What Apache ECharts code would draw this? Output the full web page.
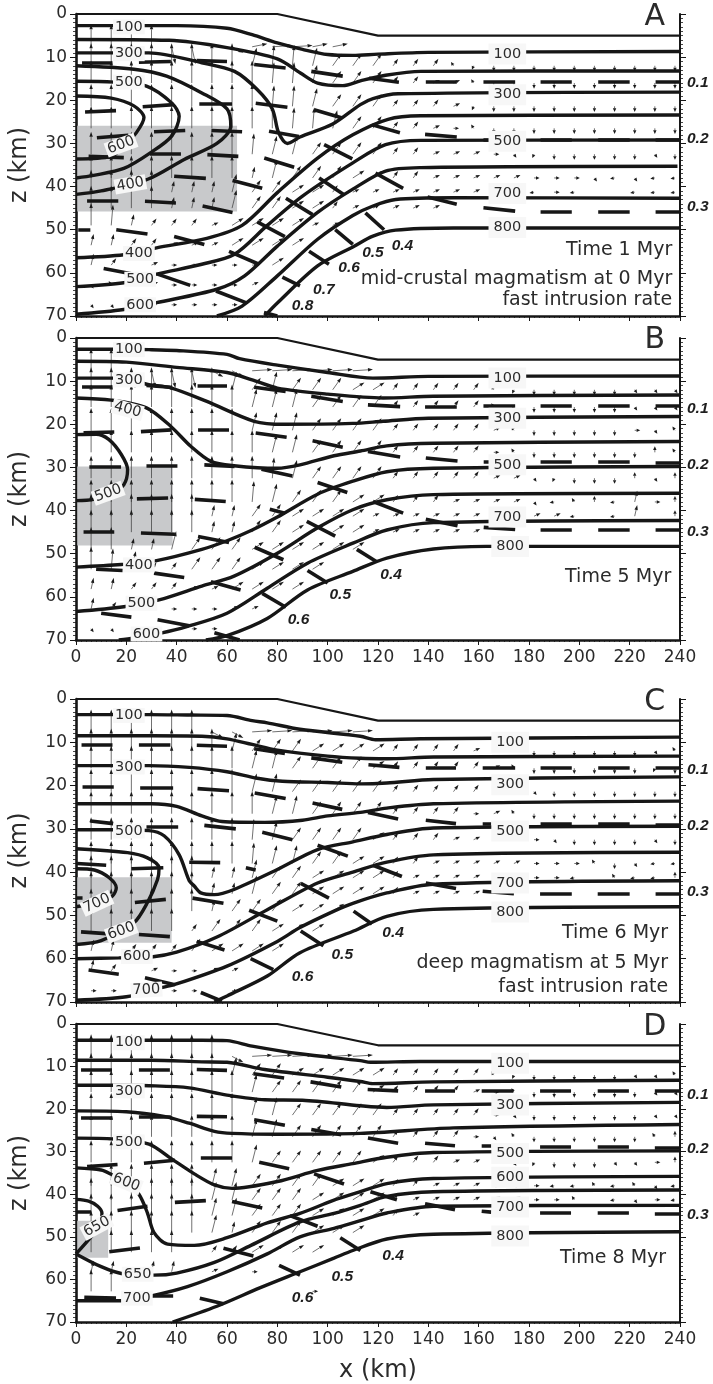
<!DOCTYPE html>
<html><head><meta charset="utf-8">
<style>html,body{margin:0;padding:0;background:#fff}#c{width:713px;height:1384px}</style>
<script src="https://cdn.jsdelivr.net/npm/echarts@6/dist/echarts.min.js"></script>
</head><body><div id="c"></div>
<script>
// ---------- shared values ----------
const xTicksMax = 240, zMax = 70;
const surface = [[0,0],[80,0],[120,5],[240,5]];
const arrowCols = [6,14,22,30,38,46,54,62,70,78,86,94,102,110,118,126,134,142,150,158,166,174,182,190,198,206,214,222,230,238];
const arrowRowsZ = [7.6,12,16,21.4,26.5,32.5,38,41.3,45,49,53.6,58.2,62.8,67.4];
const arrowCodes = {A:[0,-5.2],B:[0.7,-4.8],C:[1.8,-4.2],D:[3.4,-2.8],E:[4.6,-1.7],F:[6,-0.7],G:[8,-0.3],H:[1.5,4],I:[4.5,1.4],
  a:[0,-1.4],b:[1,-2.6],d:[2,-1.6],e:[2.6,-0.7],r:[2.2,0],x:[1,0.8],v:[0,1.3],w:[-0.7,0.9],l:[-1.8,0.2],q:[-1,-0.9],s:[2,0.3]};

// ---------- Panel A ----------
const isoA = [
 [[0,2.7],[15,2.7],[40,2.7],[60,3.3],[70,4.8],[80,6.7],[90,8.2],[100,9.4],[110,9.6],[120,9.3],[140,8.9],[240,8.7]],
 [[0,5.9],[37,6.1],[60,7.8],[80,10.4],[89,13.6],[96,16],[106,16.6],[113,15.5],[123,14.2],[137,13.3],[240,13.2]],
 [[0,9],[15,9],[29,9],[50,11.3],[63,13.3],[72,17.5],[78,22],[80.5,27.5],[84,30],[89,28.5],[102,25.5],[113,21],[118,19.6],[128,18.5],[240,18.1]],
 [[0,12],[23,12.8],[36,14.4],[50,18.3],[60,22],[61.5,26],[56,30],[43,33.7],[28.5,38.3],[10,41],[0,41.8]],
 [[0,15.6],[15,15.8],[28,16.7],[38,20.6],[41,23.7],[38,28.3],[30,32],[19,35.8],[7,37.4],[0,38]],
 [[0,19],[14,19.5],[23,21.3],[27,24],[24,27.5],[19,30.6],[14,33],[0,33.6]],
 [[0,56.5],[19,55.8],[32,54.2],[52,52],[66,49],[80,41.4],[96,33.4],[110,28],[124,24.4],[137,23.6],[240,23.4]],
 [[0,63.2],[19,62.3],[32,60.3],[50,58],[63,55.7],[76,49],[90,42.2],[110,34.5],[123,30.3],[137,29.3],[240,29.2]],
 [[0,69.6],[19,68.5],[32,66.9],[56,63.8],[67,60.7],[80,53.8],[96,46],[110,40.6],[123,36.4],[137,35.6],[239,35.3]],
 [[56,70],[66,67.7],[80,60.7],[96,52.2],[110,46.7],[118,44.5],[127,43],[150,42.6],[240,42.7]],
 [[75,70],[80,67],[96,58.4],[110,54],[118,51.5],[127,50.1],[150,49.6],[240,49.6]]
];
const meltA = [
 [2.4,11.2,14.5,11.2],[25,11.2,37.7,11],[48,10.8,60,11],[70.8,11.7,83.3,12.5],[93.5,13.3,106,14.4],[116.4,14.9,128.3,15.8],[139,15.7,151.3,15.7],[161.9,15.7,174.5,15.7],[184.6,15.7,197,15.7],[207.5,15.7,220,15.7],[230.3,15.7,240,15.7],
 [3.6,22.7,15.9,22.4],[26.5,21.5,39,21],[49,20.7,62,20.7],[71.4,20.7,84,21.6],[94.6,22.2,105.8,24.1],[117.7,25.7,128.7,27.5],[138.7,27.9,151.3,28.5],[161.9,29.1,174.5,29.1],[184.6,29.1,197,29.1],[207.5,29.1,220,29.1],[230.3,29.1,240,29.1],
 [8.3,28.7,20.8,28.1],[31,27.3,43.4,27],[53.8,27,66,27.3],[76.7,27.2,88.6,28.4],[98.6,30.3,109.8,33.6],[119,36.9,130,40.4],[139.7,42.4,151.3,44.1],[161.9,44.9,174.5,45.7],[184.6,45.8,197,45.8],[207.5,45.8,220,45.8],[230.3,45.8,240,45.8],
 [5,33,19,33.3],[29.4,32.3,41.7,32.3],[52.2,32.6,64.5,33],[74.8,33.4,86.7,35.5],[96.6,38,106.5,41.9],[115,46.1,122.4,50],
 [39,37.6,51.6,38.1],[62.2,38.6,74,40.4],[83.4,42.7,94,46.5],[103,50,110,53.4],
 [4.4,43.4,16.8,43.4],[27.4,43.4,39.7,43.8],[50.3,44.5,62.2,46],[72,48.2,83,51.6],[92.6,55,100.5,58],
 [0.9,50,5.7,50],[16,50,28.4,51],[39,51.6,51,53.4],[60.8,55,72.7,58],[82,61,89,63],
 [11,59,23,60.3],[32.4,60.3,45.4,62.9],[55.6,64.2,67.5,66.9],[74.7,69.2,80,70]
];
const rectA = [0.5,25.9,64,45.8];
const labelsA = [[21,3,'100',0],[21,9.2,'300',0],[21,15.8,'500',0],[17.9,30.4,'600',20],[21.6,39.5,'400',10],[25,55.5,'400',0],[25.5,61.5,'500',0],[25.5,67.4,'600',0],[171.4,9.3,'100',0],[171.4,18.7,'300',0],[171.4,29.5,'500',0],[171.4,41.6,'700',0],[171.4,49.5,'800',0]];
const contourA = [[129.7,53.6,'0.4'],[118,55.3,'0.5'],[108.5,58.8,'0.6'],[98.5,63.8,'0.7'],[90,67.7,'0.8']];
const edgeA = [[16,'0.1'],[29,'0.2'],[44.7,'0.3']];
const notesA = [[236.9,54.8,'Time 1 Myr'],[236.9,61.4,'mid-crustal magmatism at 0 Myr'],[236.9,66.4,'fast intrusion rate']];
const arrowsA = [
 "AAAAHH.IFGGFF.................",
 "AAAAAAAACBBCDDDdddqwvvvvvvvvvv",
 "AAAAAAAAABBCDDDddeeqvvvvvvvvvv",
 "AAAAAAAAABBCDDDdddewvvvvvvvvvv",
 "AAAAAAAAAABBCDDdderqvvvvvvvvvv",
 "AAAAAAAABCCDDDDddeeerxwvvvvvxv",
 "AAAAAAAAbCDDDEEddeeeeerrrxlxll",
 "AAAAbbbCDDEEdeeeeeeerrlrl..lll",
 "AAAAbbbCDDEEdeeeee............",
 "ABbdddeEEEEee.................",
 "bbddeeeEEEE...................",
 "bd.errrrrE....................",
 "xq.errrre.....................",
 "xxrrrrrr......................"
];

// ---------- Panel B ----------
const isoB = [
 [[0,2.6],[15,2.6],[29,2.7],[40,2.9],[60,3.8],[65,4.8],[80,6.3],[100,8],[118,9.3],[140,8.9],[240,8.8]],
 [[0,5.4],[20,5.6],[40,6.8],[60,8],[70,9.7],[80,11.6],[100,13],[122,13.9],[142,13.5],[240,13.2]],
 [[0,9.3],[15,9.3],[29,10.8],[38,11.6],[52,14.7],[70.8,19.3],[82.7,20],[110,19.8],[122,19.3],[140,18.6],[240,18.2]],
 [[0,13.9],[14,14.4],[28,16.2],[37.7,20.5],[45.6,25.1],[53.6,28.6],[62.8,29.6],[80,30.2],[89,29.4],[102.5,27.3],[113,26.2],[123.5,25],[142,24.4],[240,24]],
 [[0,22.4],[8,22.3],[13,23.5],[18,27],[20.5,30.5],[19,34],[14,36],[7,37.4],[0,37.7]],
 [[0,53.1],[18,52.5],[32,51.6],[50,49],[60,47],[70,44.5],[80,41.5],[96,36.2],[110,33.2],[123.5,31],[142,30.2],[240,29.8]],
 [[0,63.4],[19,62.3],[33,60.7],[50,57.5],[62.8,55.2],[80,49.9],[96,44],[110,39.8],[123.5,37.5],[142,36.3],[240,36]],
 [[17,70],[23,69.5],[33.7,68.4],[44,66.9],[60,63.8],[76,58],[92,52.2],[110.3,47.5],[123.5,44.5],[142,42.8],[240,42.3]],
 [[51.6,70],[60,69],[76,65],[92,58.4],[110,54.1],[123.5,51],[142,48.9],[163,48.3],[240,48.3]]
];
const meltB = [
 [2.4,11.4,14.5,11.4],[28,11,37.7,11.4],[48.3,11,60,11],[70.8,11.4,83.3,12.4],[93.5,13.5,106,14.7],[116,15.5,128.8,15.9],[138.7,15.9,151.3,15.9],[161.9,15.7,174.5,15.7],[184.6,15.7,197,15.7],[207.5,15.7,220,15.7],[230.3,15.8,240,15.8],
 [3,22,15.2,21.8],[25.8,21.7,38,21.3],[48.5,21.3,60.8,21.3],[71.4,22,83.7,23],[94,23.8,106,25.3],[116,26.3,128.8,27.6],[139,27.8,151.6,28.5],[162,28.6,165,28.6],[184.6,28.7,197,28.7],[207.5,28.7,220,28.7],[230.3,28.9,240,28.9],
 [5.3,29.8,17.9,29.8],[28,29.6,40.3,29.5],[51,29.4,63,29.8],[73.7,30.4,86,32],[96,33.5,107.8,35.8],[118,37.9,130,40.6],[139,42,151.6,43.5],[162,43.9,174.5,44.4],[184.6,44.4,197,44.4],[207.5,44.4,220,44.4],[230.3,44.5,240,44.5],
 [24.2,37.3,36.6,37.1],[47.2,37.4,59.5,37.9],[77,39.7,83,40.6],[91.7,42.5,103,45.9],[111.6,49,119.3,51.8],
 [3,45,15.2,45],[25.8,45.2,39.3,45.5],[48.5,46,60.8,47.4],[71,48.5,82.4,51.4],[92,53.9,100,56.8],
 [8,53.6,18.5,53.9],[31,54.5,43,55.5],[53.6,56.5,65.4,58.4],[74,59.2,83.4,62.4],
 [10,63.8,22,64.7],[32.4,65.3,45,66.7],[55,68.3,65,70]
];
const rectB = [0.5,29.8,38.4,48.1];
const labelsB = [[21,2.7,'100',0],[21,9.7,'300',0],[20.5,16.6,'400',-15],[12.8,36,'500',20],[25,52.6,'400',0],[26,61.5,'500',0],[28,68.6,'600',0],[171.4,9.3,'100',0],[171.4,18.6,'300',0],[171.4,29.4,'500',0],[171.4,41.5,'700',0],[172.5,48.3,'800',0]];
const contourB = [[125.2,54.8,'0.4'],[105,59.5,'0.5'],[88.4,65.2,'0.6']];
const edgeB = [[16.5,'0.1'],[29.4,'0.2'],[44.9,'0.3']];
const notesB = [[236.5,55.5,'Time 5 Myr']];
const arrowsB = [
 "AAHHHHIIGGGGGG................",
 "AAAAAAACDCDDDEEdddddqwvvvvvxxx",
 "AAAAAAAACCCDDDDdddddqwvvvvvxxx",
 "AAAAAAAACCCDDDDdddddeqvvvvvrxq",
 "AAAAAAAAACCDDDDdddddrqvvvvvvaq",
 "AAAAAAAAABCDDDDdddddeexwvvvaxa",
 "AAAAAAAABCDDDEEdddeeeexlqalbra",
 "AAAAAAbbDDEEEEeeeeeeeeeel.lb.a",
 "AAAAAAbbDDEEEEeeeeee..........",
 "AAbbCDDDEEEEEE................",
 "ABCddDDDEEEE..................",
 "bbdddeeEEEE...................",
 "bdd.rrree.....................",
 "xxr..rr......................."
];

// ---------- Panel C ----------
const isoC = [
 [[0,3.6],[15,3.6],[29,3.6],[45,3.7],[60,3.8],[70,5],[76,5.5],[89,7],[113,8.6],[119,9.4],[137,9.2],[240,8.8]],
 [[0,8.5],[30,8.5],[50,8.6],[60,9.2],[70,10.5],[80,11.8],[100,13.2],[113,13.7],[123.5,13.8],[142,13.4],[240,13.2]],
 [[0,15.4],[15,15.4],[29,15.4],[45,15.8],[60,16.8],[72,18.3],[82,19],[100,19.3],[113,19.6],[123.5,19.4],[142,18.6],[240,18]],
 [[0,24.2],[30,24.2],[40,24.8],[50,27],[58,28.3],[75,28.5],[90,28],[100,27],[113,26.2],[123.5,25.2],[142,24.2],[240,23.6]],
 [[0,30.2],[15,30.2],[29,30.4],[35,31.6],[41,36],[45,42],[47,43.2],[49.6,44.8],[55,45.2],[62.8,44],[80,39.4],[96,34.8],[110,33],[123.5,31.3],[142,29.8],[240,29.4]],
 [[0,34.6],[20.5,35.5],[28.4,36.7],[33,39],[32.4,41.7],[28.4,47],[23,51.7],[10,55.8],[0,56.7]],
 [[0,39.2],[7.3,39.5],[13.2,41.3],[16,43.6],[14.5,45.5],[9,47],[0,48]],
 [[0,60],[17,59.8],[30,59.6],[40,58.5],[56,55],[76,48.7],[96,42.5],[110,40],[123.5,37.7],[142,36],[240,35.4]],
 [[0,69.6],[20,68.8],[33,66.8],[39,66],[60,61.7],[80,56],[89,52.8],[102.5,49],[110,47.2],[123.5,44.8],[142,42.8],[240,42]],
 [[55,70],[60,68.6],[76,64],[89,58.6],[110.3,53.6],[123.5,50.2],[142,48.6],[240,48]]
];
const meltC = [
 [2.2,10.5,14.5,10.5],[25,10.5,37.5,10.5],[48,10.7,60,10.9],[70.8,11.5,83,12.6],[93.5,13.6,105.8,14.6],[116.2,15.2,128.5,15.8],[139,15.8,151,15.8],[161.6,15.8,174.5,15.8],[184.6,15.8,197,15.8],[207.5,15.8,220,15.8],[230.3,15.8,240,15.8],
 [2.6,20.3,15,20.3],[25.5,20.6,38.6,20.6],[48.3,20.7,60.8,21.2],[71,21.7,83.3,23],[94,24,105.8,25.5],[116,26.2,128,27.7],[139,28,151,28.8],[161.6,28.8,165,28.8],[184.6,28.8,197,28.8],[207.5,28.8,220,28.8],[230.3,29,240,29],
 [5.7,28.2,14.8,28.8],[28,29.4,40.6,29.4],[51,29.2,63.5,30],[74,30.8,86,32.5],[96,33.8,108,36.3],[118,38.4,129.5,41],[139,42.5,151,43.8],[161.6,44.4,174,45],[184.4,45,197,45],[207.3,45,220,45],[230.3,45,240,45],
 [0.4,38,12,38.4],[22,39.2,34.7,39],[45,37.7,57.3,37.8],[67.5,39,71.4,39.5],[89.3,42.6,100.5,46],[110.3,49,117.6,52],
 [0,46,2.6,46],[23.4,47,35.7,46.3],[46.3,46,58.6,47.2],[68.8,48.8,80,51.3],[89.3,53.6,98.3,57],
 [2,53.8,12,54.2],[25,54.4,37.3,54.9],[48,56,59,58],[69.4,60,78.4,62.5],
 [5,62.6,17,63.6],[27.4,64.4,39.3,66],[49.6,67.8,58,69.8]
];
const rectC = [0.5,41.2,38,56.3];
const labelsC = [[21,3.8,'100',0],[21,15.7,'300',0],[21,30.5,'500',0],[8.3,47.2,'700',25],[18,53.6,'600',20],[24.2,59.5,'600',0],[28,67.2,'700',3],[172.5,10,'100',0],[172.5,19.8,'300',0],[172.5,30.5,'500',0],[172.5,42.5,'700',0],[172.5,49.2,'800',0]];
const contourC = [[126,54,'0.4'],[105.8,59,'0.5'],[90,64.2,'0.6']];
const edgeC = [[16.3,'0.1'],[29.2,'0.2'],[44.5,'0.3']];
const notesC = [[235.3,54,'Time 6 Myr'],[235.3,61,'deep magmatism at 5 Myr'],[235.3,66.5,'fast intrusion rate']];
const arrowsC = [
 "AAAAAAIIGGGGGG................",
 "AAAAAAACDDDEEEEddddeeqvvvvvvxq",
 "AAAAAAAACCDDDDEdddddeqvvvvvvwv",
 "AAAAAAAACCDDDDDdddddrexvvvvvvv",
 "AAAAAAAAACCDDDDddddreqvvvvvvvv",
 "AAAAAAAABCDDDDEdddeeeerxvvvvxv",
 "AAAAAAAABCCDDEEddeeeeerrrqvxll",
 "AAAAAAbbCDDEEEEdeeeeeerrl.qlla",
 "AAAAAAbbCDDEEEEdeeee..........",
 "AAAAAAbDDDEEE.................",
 "AAAAAdDDDEEE..................",
 "bbdddDEEEE....................",
 "bd.erree......................",
 "rr.rrr.r......................"
];

// ---------- Panel D ----------
const isoD = [
 [[0,3.8],[15,3.8],[29,3.8],[50,3.8],[60,3.9],[70,5.2],[89,7],[113,8.6],[117,9],[136.8,8.8],[240,8.8]],
 [[0,8.5],[30,8.5],[50,8.9],[60,9],[75,10.7],[100,12.5],[113,13.5],[118,14],[142,13.6],[240,13.2]],
 [[0,14.4],[15,14.4],[29,14.5],[45,15],[60,16.7],[75,17.8],[90,17.9],[113,19.2],[123.5,19.6],[142,19],[240,18.4]],
 [[0,20.4],[20,20.6],[35,21.7],[45,23.3],[55,25.2],[62,25.7],[80,25.9],[113,25.7],[150,24.4],[240,23.6]],
 [[0,26.8],[15,27],[29,28.2],[38,31.7],[47,35.2],[55,37.8],[62,38.6],[80,37],[96,34.4],[110,32.8],[123.5,31.3],[142,30.2],[240,29.8]],
 [[0,33.8],[10,34.3],[14,35.3],[20,37.2],[25,40],[28.4,44.4],[31,49],[36.4,51.7],[47,52],[60,50.2],[76,46.7],[89,44.5],[102,41.5],[113,39.4],[123.5,37.5],[142,36.3],[240,35.8]],
 [[0,41.2],[5,41.6],[8.6,42.8],[10.3,44.4],[10,47],[6,50],[0,54]],
 [[0,54],[10,57],[18,58.6],[31,59],[40,58.5],[55,56],[69.5,52],[89,46.5],[102.5,44.5],[113,42.6],[123.5,40.5],[142,39.4],[240,39]],
 [[0,65],[18,65],[30.4,63.8],[44.3,61.7],[60,58.2],[76,54],[89,50],[102.5,48],[113,46.2],[123.5,44.4],[142,42.8],[240,42.6]],
 [[38.4,70],[56,66.3],[73,62],[89,58.2],[102.5,55],[110,53.2],[123.5,50.5],[142,49.4],[240,48.8]]
];
const meltD = [
 [2,10.7,14.3,10.7],[25,10.7,37.3,10.7],[48,10.7,60,10.9],[70.5,11.7,82.7,12.7],[93.2,13.6,105.4,14.8],[115.9,15.4,128,15.7],[138.7,15.7,150.6,15.7],[161.2,15.7,173.8,15.7],[184.4,15.7,196.7,15.7],[207.3,15.7,219.7,15.7],[230,15.7,240,15.7],
 [2,22,14.5,22],[25,21.7,37.7,21.7],[48,21.7,60,21.8],[70.8,22.5,83,23.8],[93.5,24.8,105.4,26],[116,26.8,128,28],[138.7,28,150.6,28.6],[161.2,28.6,165,28.6],[184.4,28.8,196.7,28.8],[207.3,28.8,219.7,28.8],[230,29,240,29],
 [4.4,33.5,16.5,33],[27,32.7,39.3,32],[49.6,31.5,62,31.5],[72.8,32.5,84.7,34],[94.6,35.2,106.5,37.6],[117,39.4,127.5,41.3],[138.7,42.2,150.6,43.6],[161.2,44,165,44.2],[184.4,44.4,196.7,44.4],[207.3,44.4,219.7,44.4],[230,44.5,240,44.5],
 [0.4,44.2,6,44.2],[16.5,43.8,28.4,42.8],[39.3,41.9,51.6,41.5],[62,41.7,74,43.2],[85,45,96,47.5],[105,50.2,113,53.2],
 [13.2,53.5,25.4,52.6],[58.6,52.7,70.5,54.5],[80.7,56.7,89,59],
 [3.3,64.2,15.9,64.4],[30,63.8,38.6,63.8],[49.2,64.4,58.6,65.7]
];
const rectD = [0.5,46.2,12.8,54.9];
const labelsD = [[21,4.4,'100',0],[21,15.7,'300',0],[21,27.7,'500',0],[20,37.2,'600',-22],[8.3,47.6,'650',28],[24.5,58.8,'650',0],[24.2,64.4,'700',0],[172.5,9.2,'100',0],[172.5,19,'300',0],[172.5,30.4,'500',0],[172.5,36,'600',0],[172.5,43,'700',0],[172.5,49.8,'800',0]];
const contourD = [[126,54.4,'0.4'],[105.8,59.4,'0.5'],[90,64.4,'0.6']];
const edgeD = [[16.5,'0.1'],[29.4,'0.2'],[44.8,'0.3']];
const notesD = [[234.5,55,'Time 8 Myr']];
const arrowsD = [
 "AAAAAAAIGGGGGG................",
 "AAAAAAACDDEEEEEdddddqwvvvvvxxq",
 "AAAAAAAACDDDDDEdddderqvvvvvvxx",
 "AAAAAAAACCDDDDDdddddrxvvvvvvxx",
 "AAAAAAAACCDDDDDddddrxqvvvvvvqa",
 "AAAAAAAACDDDDDEdddeerxwvvvxxra",
 "AAAAAACCDDDDEEEddeeerrrllqlqxl",
 "AAAAAACCDDDEEEEdeeeeeerrq.lxrl",
 "AAAAAACCDDDEEEEde.............",
 "AAAAAACbDDDEEE................",
 "AAAAA.ddEEEE..................",
 "bb.bb.e.r.....................",
 "AA.........r..................",
 ".............................."
];

const panels = [
 {name:'A',iso:isoA,melt:meltA,rect:rectA,labels:labelsA,contour:contourA,edge:edgeA,notes:notesA,arrows:arrowsA,top:14,bottom:316,xl:false,letterZ:0.8},
 {name:'B',iso:isoB,melt:meltB,rect:rectB,labels:labelsB,contour:contourB,edge:edgeB,notes:notesB,arrows:arrowsB,top:338,bottom:640,xl:true,letterZ:0.6},
 {name:'C',iso:isoC,melt:meltC,rect:rectC,labels:labelsC,contour:contourC,edge:edgeC,notes:notesC,arrows:arrowsC,top:699,bottom:1002,xl:false,letterZ:0.8},
 {name:'D',iso:isoD,melt:meltD,rect:rectD,labels:labelsD,contour:contourD,edge:edgeD,notes:notesD,arrows:arrowsD,top:1024,bottom:1328,xl:true,letterZ:0.8}
];

const INK='#161616', TXT='#2b2b2b', F='"DejaVu Sans"', FB='"Liberation Sans"';
const grid=[],xAxis=[],yAxis=[],series=[];

function arrowRender(params,api){
  const a=api.coord([api.value(0),api.value(1)]);
  const b=api.coord([api.value(0)+api.value(2),api.value(1)+api.value(3)]);
  const dx=b[0]-a[0],dy=b[1]-a[1],L=Math.hypot(dx,dy)||1,ux=dx/L,uy=dy/L;
  const hl=Math.min(5,Math.max(3.6,L*0.6)),hw=1.7;
  const bx=b[0]-ux*hl,by=b[1]-uy*hl;
  return {type:'group',children:[
    {type:'line',shape:{x1:a[0],y1:a[1],x2:bx,y2:by},style:{stroke:'#333',lineWidth:0.7}},
    {type:'polygon',shape:{points:[[b[0],b[1]],[bx-uy*hw,by+ux*hw],[bx+uy*hw,by-ux*hw]]},style:{fill:'#1c1c1c'}}
  ]};
}
function rectRender(params,api){
  const a=api.coord([api.value(0),api.value(1)]),b=api.coord([api.value(2),api.value(3)]);
  return {type:'rect',shape:{x:a[0],y:a[1],width:b[0]-a[0],height:b[1]-a[1]},style:{fill:'#c8c9cb'}};
}
const opaque={itemStyle:{opacity:1}};

panels.forEach((p,i)=>{
  grid.push({left:75,width:605,top:p.top,height:p.bottom-p.top});
  const last=i===3;
  xAxis.push({gridIndex:i,type:'value',min:0,max:xTicksMax,interval:20,position:'bottom',
    axisLine:{onZero:false,lineStyle:{color:INK,width:2.6}},
    axisTick:{show:true,length:5,lineStyle:{color:INK,width:1}},
    minorTick:{show:true,splitNumber:10,length:2,lineStyle:{color:INK,width:0.8}},
    axisLabel:{show:p.xl,fontFamily:F,fontSize:17,color:TXT,margin:9},splitLine:{show:false},
    name:last?'x (km)':'',nameLocation:'middle',nameGap:37,nameTextStyle:{fontFamily:F,fontSize:24,color:TXT}});
  yAxis.push({gridIndex:i,type:'value',min:0,max:zMax,interval:10,inverse:true,position:'left',
    axisLine:{show:true,onZero:false,lineStyle:{color:INK,width:2.6}},
    axisTick:{show:true,length:6,lineStyle:{color:INK,width:1}},
    minorTick:{show:true,splitNumber:10,length:3,lineStyle:{color:INK,width:0.8}},
    axisLabel:{fontFamily:F,fontSize:17,color:TXT,margin:9,padding:[7,0,0,0]},splitLine:{show:false},
    name:'z (km)',nameLocation:'middle',nameGap:44,nameTextStyle:{fontFamily:F,fontSize:24,color:TXT}});
  yAxis.push({gridIndex:i,type:'value',min:0,max:zMax,interval:10,inverse:true,position:'right',
    axisLine:{show:true,onZero:false,lineStyle:{color:INK,width:2}},
    axisTick:{show:true,length:6,lineStyle:{color:INK,width:1}},
    minorTick:{show:true,splitNumber:10,length:3,lineStyle:{color:INK,width:0.8}},
    axisLabel:{show:false},splitLine:{show:false}});
  const xi=i,yi=i*2,base={xAxisIndex:xi,yAxisIndex:yi,animation:false,silent:true};

  series.push({...base,type:'custom',z:1,clip:true,renderItem:rectRender,data:[p.rect],encode:{x:[0,2],y:[1,3]}});

  const arrowData=[];
  p.arrows.forEach((row,r)=>{[...row].forEach((c,k)=>{const v=arrowCodes[c];if(v)arrowData.push([arrowCols[k],arrowRowsZ[r],v[0],v[1]]);});});
  series.push({...base,type:'custom',z:2,clip:true,renderItem:arrowRender,data:arrowData,encode:{x:0,y:1}});

  series.push({...base,type:'line',z:3,clip:false,data:surface,showSymbol:false,symbol:'none',lineStyle:{color:INK,width:2.2}});
  p.iso.forEach(c=>series.push({...base,type:'line',z:3,clip:true,data:c,symbol:'none',smooth:0.3,lineStyle:{color:INK,width:3.4,cap:'butt'}}));
  series.push({...base,type:'lines',coordinateSystem:'cartesian2d',z:4,clip:true,
    data:p.melt.map(s=>({coords:[[s[0],s[1]],[s[2],s[3]]]})),lineStyle:{color:INK,width:3.6,opacity:1,curveness:0},symbol:'none'});

  series.push({...base,...opaque,type:'scatter',z:6,symbolSize:0,clip:false,
    data:p.labels.map(l=>({value:[l[0],l[1]],name:l[2],label:{rotate:l[3],padding:l[0]>100?[3,5]:[0,2]}})),
    label:{show:true,opacity:1,position:'inside',formatter:'{b}',fontFamily:F,fontSize:14.5,color:TXT,backgroundColor:'#f7f7f7'}});
  series.push({...base,...opaque,type:'scatter',z:6,symbolSize:0,clip:false,
    data:p.contour.map(l=>({value:[l[0],l[1]],name:l[2]})),
    label:{show:true,opacity:1,position:'inside',formatter:'{b}',fontFamily:FB,fontWeight:'bold',fontStyle:'italic',fontSize:15.5,color:'#1e1e1e'}});
  series.push({...base,...opaque,type:'scatter',z:6,symbolSize:0,clip:false,
    data:p.edge.map(l=>({value:[xTicksMax,l[0]],name:l[1]})),
    label:{show:true,opacity:1,position:'right',distance:7,formatter:'{b}',fontFamily:FB,fontWeight:'bold',fontStyle:'italic',fontSize:15.5,color:'#1e1e1e'}});
  series.push({...base,...opaque,type:'scatter',z:6,symbolSize:0,clip:false,
    data:p.notes.map(l=>({value:[l[0],l[1]],name:l[2]})),
    label:{show:true,opacity:1,position:'left',distance:0,formatter:'{b}',fontFamily:F,fontSize:19,color:TXT}});
  series.push({...base,...opaque,type:'scatter',z:6,symbolSize:0,clip:false,data:[{value:[230,p.letterZ],name:p.name}],
    label:{show:true,opacity:1,position:'inside',formatter:'{b}',fontFamily:F,fontSize:30,color:TXT}});
});

const chart=echarts.init(document.getElementById('c'),null,{renderer:'canvas'});
chart.setOption({animation:false,backgroundColor:'#fff',grid,xAxis,yAxis,series});
</script></body></html>
